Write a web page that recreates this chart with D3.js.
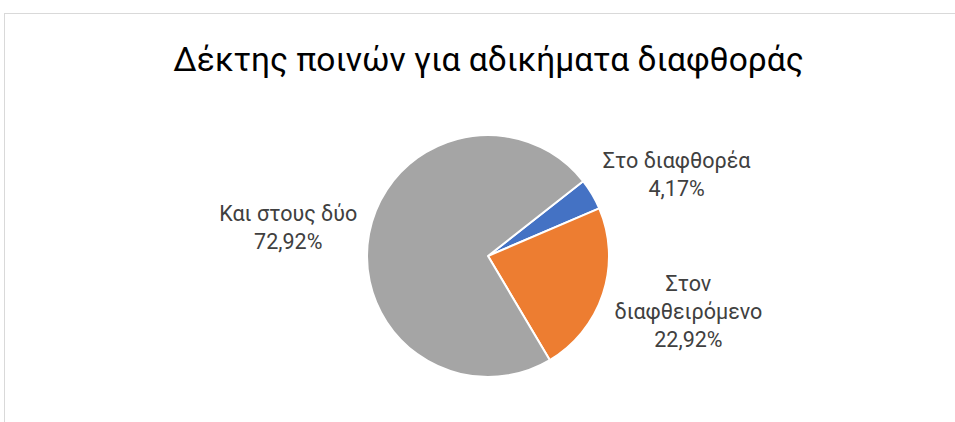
<!DOCTYPE html>
<html>
<head>
<meta charset="utf-8">
<script src="https://cdn.jsdelivr.net/npm/d3@7"></script>
<style>
  body { margin: 0; background: #fff; }
  text { font-family: Roboto, "Noto Sans", sans-serif; }
</style>
</head>
<body>
<div id="chart"></div>
<script>
  // data
  var categories = ['Στο διαφθορέα', 'Στον διαφθειρόμενο', 'Και στους δύο'];
  var labelLines = [['Στο διαφθορέα'], ['Στον', 'διαφθειρόμενο'], ['Και στους δύο']];
  var values = [4.17, 22.92, 72.92];
  var colors = ['#4472C4', '#ED7D31', '#A5A5A5'];
  var title = 'Δέκτης ποινών για αδικήματα διαφθοράς';

  var width = 955, height = 422;
  var cx = 488, cy = 256, r = 121;
  var start = 51.8 * Math.PI / 180;

  var svg = d3.select('#chart')
    .append('svg')
    .attr('width', width)
    .attr('height', height);

  // chart area border
  svg.append('rect')
    .attr('x', 4.5)
    .attr('y', 13.5)
    .attr('width', 1000)
    .attr('height', 1000)
    .attr('fill', 'none')
    .attr('stroke', '#d9d9d9')
    .attr('stroke-width', 1);

  svg.append('text')
    .attr('x', 488.5)
    .attr('y', 71)
    .attr('text-anchor', 'middle')
    .attr('font-size', 33.5)
    .attr('fill', '#000')
    .text(title);

  var pie = d3.pie()
    .sort(null)
    .startAngle(start)
    .endAngle(start + 2 * Math.PI);
  var arcs = pie(values);

  var arc = d3.arc().innerRadius(0).outerRadius(r);

  var g = svg.append('g')
    .attr('transform', 'translate(' + cx + ',' + cy + ')');

  g.selectAll('path')
    .data(arcs)
    .enter()
    .append('path')
    .attr('d', arc)
    .attr('fill', function(d, i) { return colors[i]; })
    .attr('stroke', '#fff')
    .attr('stroke-width', 2)
    .attr('stroke-linejoin', 'round');

  var format = function(v) { return v.toFixed(2).replace('.', ',') + '%'; };
  var lineH = 28;

  var labels = g.selectAll('.label')
    .data(arcs)
    .enter()
    .append('text')
    .attr('class', 'label')
    .attr('text-anchor', 'middle')
    .attr('font-size', 21.5)
    .attr('fill', '#404040');

  labels.each(function(d, i) {
    var t = d3.select(this);
    var lines = labelLines[i].concat([format(values[i])]);
    lines.forEach(function(s, k) {
      t.append('tspan')
        .attr('x', 0)
        .attr('dy', k == 0 ? 0 : lineH)
        .text(s);
    });
    // label box sits just outside the slice, on the side away from the pie
    var bb = this.getBBox();
    var mid = (d.startAngle + d.endAngle) / 2;
    var ra = r + 12;
    var ax = Math.sin(mid) * ra, ay = -Math.cos(mid) * ra;
    var h = lines.length * lineH;
    var bx = ax + (Math.sin(mid) > 0 ? 1 : -1) * bb.width / 2;
    var by = ay - Math.cos(mid) * h / 2;
    t.attr('transform', 'translate(' + bx + ',' + (by - h / 2 + lineH * 0.8) + ')');
  });
</script>
</body>
</html>
